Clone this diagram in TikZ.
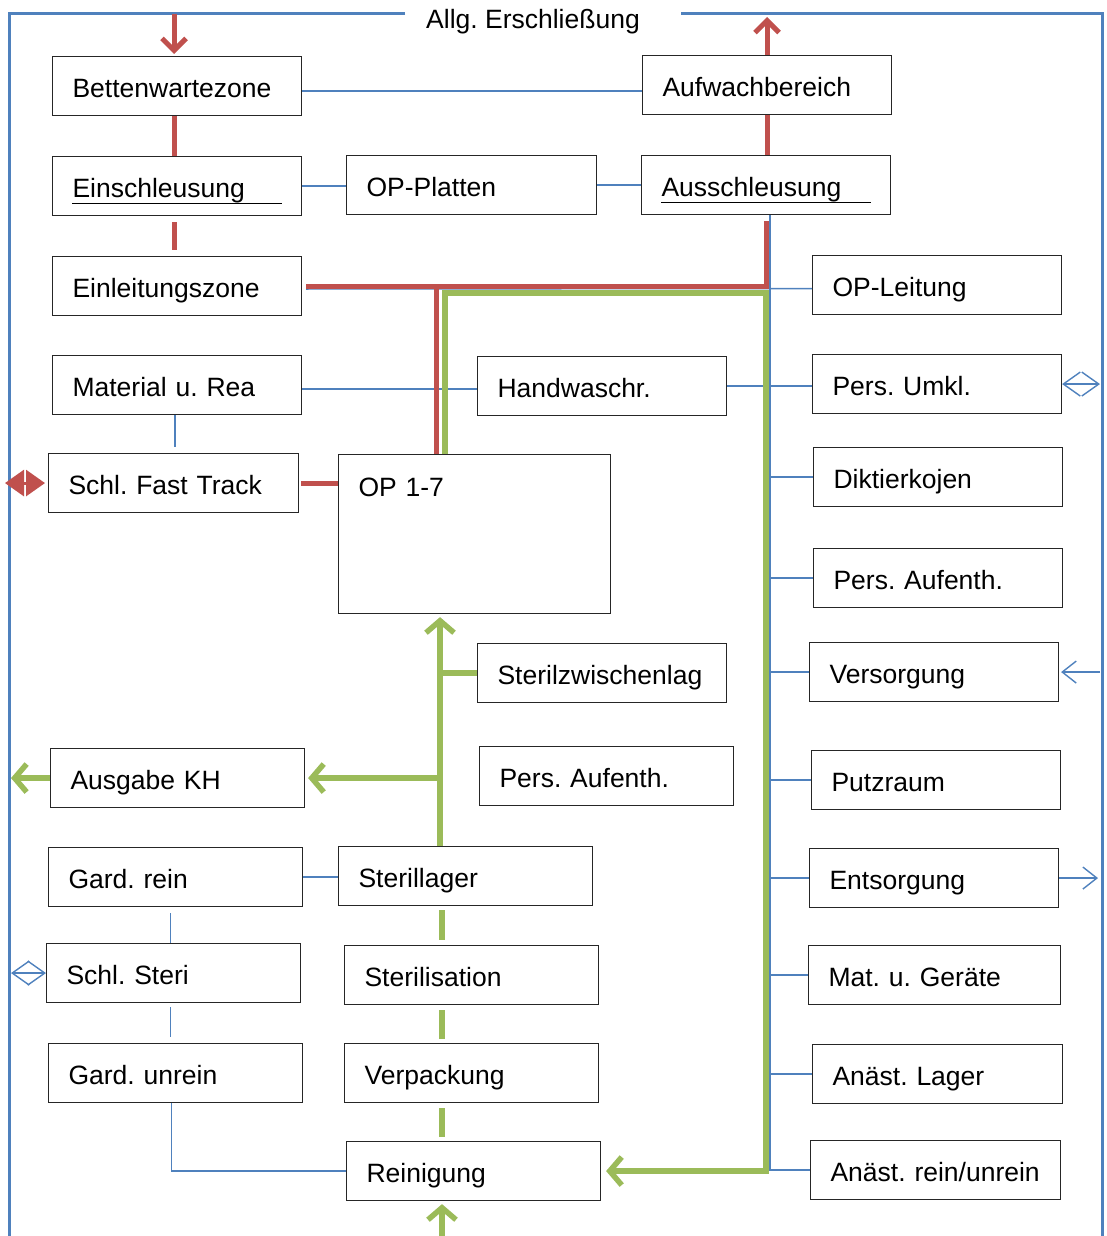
\documentclass[tikz,border=0pt]{standalone}
\usepackage{fontspec}
\setmainfont{Liberation Sans}
\usetikzlibrary{calc,arrows.meta,positioning}
\definecolor{lnblue}{HTML}{4F81BD}
\definecolor{lnred}{HTML}{C0504D}
\definecolor{lngreen}{HTML}{9BBB59}

\begin{document}
\begin{tikzpicture}[x=1pt, y=-1pt, font=\fontsize{26.5}{30}\selectfont\frenchspacing]

\tikzset{
room/.style={draw=black!85, line width=1.1pt, fill=white, anchor=north west, inner xsep=20pt, inner ysep=0pt, text width=#1, align=left, text height=41pt, text depth=18pt},
room/.default=209pt,
frame/.style={draw=lnblue, line width=3pt},
link/.style={draw=lnblue, line width=1.4pt},
linkto/.style={link, -{Straight Barb[length=14pt,width=22pt]}},
linkboth/.style={link, {Straight Barb[length=17pt,width=24pt]}-{Straight Barb[length=17pt,width=24pt]}},
patient/.style={draw=lnred, line width=5pt},
patientto/.style={patient, -{Straight Barb[length=12pt,width=24pt]}},
goods/.style={draw=lngreen, line width=5.5pt},
goodsto/.style={goods, -{Straight Barb[length=12pt,width=28pt]}}
}

\useasboundingbox (0,0) rectangle (1106,1236);

% Frame
\coordinate (fnw) at (9,14);
\coordinate (fne) at (1102,14);
\coordinate (fsw) at (9,1236);
\coordinate (fse) at (1102,1236);
\draw[frame] (405,14) -- (fnw) -- (fsw);
\draw[frame] (681,14) -- (fne) -- (fse);
\node[anchor=base] (title) at (533,29) {Allg. Erschließung};

% Nodes
\node[room] (bwz) at (52,56) {Bettenwartezone};
\node[room] (awb) at (642,55) {Aufwachbereich};
\node[room] (esl) at (52,156) {Einschleusung};
\node[room=210pt] (opp) at (346,155) {OP-Platten};
\node[room] (asl) at (641,155) {Ausschleusung};
\node[room] (elz) at (52,256) {Einleitungszone};
\node[room] (opl) at (812,255) {OP-Leitung};
\node[room] (mat) at (52,355) {Material u. Rea};
\node[room] (hwr) at (477,356) {Handwaschr.};
\node[room] (umk) at (812,354) {Pers. Umkl.};
\node[room=210pt] (sft) at (48,453) {Schl. Fast Track};
\node[room=232pt, text height=42pt, text depth=117pt] (op) at (338,454) {OP 1-7};
\node[room] (dik) at (813,447) {Diktierkojen};
\node[room] (pau) at (813,548) {Pers. Aufenth.};
\node[room] (szl) at (477,643) {Sterilzwischenlag};
\node[room] (ver) at (809,642) {Versorgung};
\node[room=214pt] (akh) at (50,748) {Ausgabe KH};
\node[room=214pt] (pam) at (479,746) {Pers. Aufenth.};
\node[room] (ptz) at (811,750) {Putzraum};
\node[room=214pt] (grn) at (48,847) {Gard. rein};
\node[room=214pt] (stl) at (338,846) {Sterillager};
\node[room] (ent) at (809,848) {Entsorgung};
\node[room=214pt] (sst) at (46,943) {Schl. Steri};
\node[room=214pt] (ste) at (344,945) {Sterilisation};
\node[room=212pt] (mug) at (808,945) {Mat. u. Geräte};
\node[room=214pt] (gun) at (48,1043) {Gard. unrein};
\node[room=214pt] (vpk) at (344,1043) {Verpackung};
\node[room=210pt] (anl) at (812,1044) {Anäst. Lager};
\node[room=214pt] (rei) at (346,1141) {Reinigung};
\node[room=210pt] (anr) at (810,1140) {Anäst. rein/unrein};

% Underlines
\draw[line width=1pt] ($(esl.north west)+(20,47)$) -- ($(esl.north east)+(-20,47)$);
\draw[line width=1pt] ($(asl.north west)+(20,47)$) -- ($(asl.north east)+(-20,47)$);

% Blue lines
\coordinate (bus) at (770,214);
\draw[link] ($(bwz.east)+(0,5)$) -- ($(bwz.east -| awb.west)+(0,5)$);
\draw[link] (esl.east) -- (esl.east -| opp.west);
\draw[link] (opp.east) -- (opp.east -| asl.west);
\draw[link] ($(elz.east)+(4,3)$) -- ($(opl.west)+(0,3.5)$);
\draw[link] (asl.south -| bus) -- (bus |- anr.west) -- (anr.west);
\foreach \n in {dik,pau,ver,ptz,ent,mug,anl}
  \draw[link] (bus |- \n.west) -- (\n.west);
\draw[link] ($(mat.east)+(0,4)$) -- ($(mat.east -| hwr.west)+(0,4)$);
\draw[link] (hwr.east) -- (hwr.east -| umk.west);
\draw[link, shorten >=6pt] ($(mat.south)+(-2,0)$) -- ($(mat.south |- sft.north)+(-2,0)$);
\draw[link] (grn.east) -- (grn.east -| stl.west);
\draw[link, shorten <=6pt, shorten >=0pt] ($(grn.south)+(-5,0)$) -- ($(grn.south |- sst.north)+(-5,0)$);
\draw[link, shorten <=4pt, shorten >=6pt] ($(sst.south)+(-3,0)$) -- ($(sst.south |- gun.north)+(-3,0)$);
\draw[link] ($(gun.south)+(-4,0)$) |- (rei.west);

% Blue arrows
\draw[linkboth] (umk.east) -- ($(umk.east -| fne)+(-2,0)$);
\draw[linkto] ($(ver.east -| fne)+(-2,0)$) -- ($(ver.east)+(2,0)$);
\draw[linkto] (ent.east) -- ($(ent.east -| fne)+(-4,0)$);
\draw[linkboth] ($(sst.west -| fsw)+(2,0)$) -- (sst.west);

% Red lines
\coordinate (inpat) at (174,14);
\coordinate (outpat) at (767,14);
\draw[patientto] (inpat) -- ($(inpat |- bwz.north)+(0,-2)$);
\draw[patientto] (outpat |- awb.north) -- ($(outpat)+(0,3)$);
\draw[patient] (bwz.south -| inpat) -- (esl.north -| inpat);
\draw[patient, shorten <=6pt, shorten >=6pt] (esl.south -| inpat) -- (elz.north -| inpat);
\draw[patient] (awb.south -| outpat) -- (asl.north -| outpat);
\draw[patient] ($(elz.east)+(4,0)$) -| ($(asl.south)+(0,6)$);
\coordinate (oppat) at (436,285);
\draw[patient] (oppat) -- (oppat |- op.north);
\draw[patient] ($(sft.east)+(2,0)$) -- (sft.east -| op.west);
\draw[patient, line width=3pt, {Triangle[length=19pt,width=26pt]}-{Triangle[length=19pt,width=26pt]}] ($(sft.west)+(-3,0)$) -- ($(sft.west -| fsw)+(-4,0)$);

% Green lines
\coordinate (gtop) at (445,293);
\coordinate (gmid) at (440,0);
\coordinate (gbot) at (442,0);
\draw[goodsto] (gtop |- op.north) -- (gtop) -| ($(rei.east)+(165,0)$) -- ($(rei.east)+(5,0)$);
\draw[goodsto] (stl.north -| gmid) -- ($(op.south -| gmid)+(0,3)$);
\draw[goods] (szl.west) -- (szl.west -| gmid);
\draw[goodsto] (akh.east -| gmid) -- ($(akh.east)+(3,0)$);
\draw[goodsto] (akh.west) -- ($(akh.west -| fsw)+(2,0)$);
\draw[goods, shorten <=4pt, shorten >=5pt] (stl.south -| gbot) -- (ste.north -| gbot);
\draw[goods, shorten <=5pt, shorten >=4pt] (ste.south -| gbot) -- (vpk.north -| gbot);
\draw[goods, shorten <=5pt, shorten >=4pt] (vpk.south -| gbot) -- (rei.north -| gbot);
\draw[goodsto] (gbot |- fsw) -- ($(rei.south -| gbot)+(0,3)$);

\end{tikzpicture}
\end{document}
